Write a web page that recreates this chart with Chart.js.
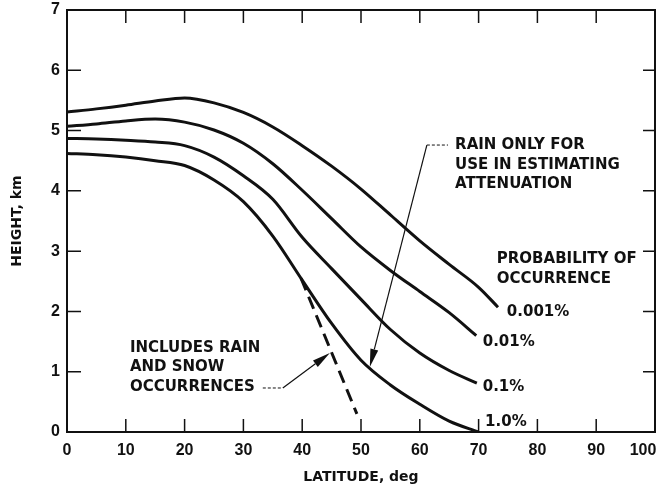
<!DOCTYPE html>
<html lang="en">
<head>
    <meta charset="UTF-8">
    <title>Height vs Latitude</title>
    <script src="https://cdn.jsdelivr.net/npm/chart.js"></script>
    <style>
        html, body { margin: 0; padding: 0; background: #fff; }
        #wrap { width: 657px; height: 490px; }
    </style>
</head>
<body>
<div id="wrap"><canvas id="heightChart" width="657" height="490"></canvas></div>

<script>
    // latitude (deg) and height (km)
    const lat001 = [0, 5, 10, 15, 20, 25, 30, 35, 40, 45, 50, 55, 60, 65, 70, 73.3];
    const h001   = [5.31, 5.36, 5.42, 5.49, 5.54, 5.46, 5.30, 5.06, 4.75, 4.41, 4.03, 3.60, 3.17, 2.78, 2.40, 2.07];

    const lat01 = [0, 5, 10, 15, 20, 25, 30, 35, 40, 45, 50, 55, 60, 65, 69.6];
    const h01   = [5.07, 5.11, 5.16, 5.19, 5.14, 5.01, 4.79, 4.45, 4.01, 3.54, 3.07, 2.68, 2.33, 1.98, 1.60];

    const lat1 = [0, 5, 10, 15, 20, 25, 30, 35, 40, 45, 50, 55, 60, 65, 69.7];
    const h1   = [4.87, 4.86, 4.84, 4.81, 4.75, 4.56, 4.25, 3.86, 3.23, 2.71, 2.20, 1.70, 1.31, 1.02, 0.81];

    const lat10 = [0, 5, 10, 15, 20, 25, 30, 35, 40, 45, 50, 55, 60, 65, 70];
    const h10   = [4.62, 4.60, 4.56, 4.50, 4.42, 4.18, 3.82, 3.25, 2.52, 1.80, 1.19, 0.78, 0.46, 0.18, 0.00];

    // rain + snow branch of the 1% curve
    const latSnow = [39.8, 49.3];
    const hSnow   = [2.55, 0.30];

    const seriesNames = ['0.001%', '0.01%', '0.1%', '1.0%'];
    const xTicks = [0, 10, 20, 30, 40, 50, 60, 70, 80, 90, 100];
    const yTicks = [0, 1, 2, 3, 4, 5, 6, 7];

    function pts(xs, ys) {
        return xs.map((x, i) => ({ x: x, y: ys[i] }));
    }

    const INK = '#111';

    // text and arrows drawn on top of the plot (data units)
    const notes = [
        { lines: ['RAIN ONLY FOR', 'USE IN ESTIMATING', 'ATTENUATION'], x: 66.0, y: 4.76, step: 0.325 },
        { lines: ['PROBABILITY OF', 'OCCURRENCE'], x: 73.1, y: 2.87, step: 0.33 },
        { lines: ['INCLUDES RAIN', 'AND SNOW', 'OCCURRENCES'], x: 10.7, y: 1.39, step: 0.32 },
        { lines: [seriesNames[0]], x: 74.8, y: 1.99, step: 0 },
        { lines: [seriesNames[1]], x: 70.7, y: 1.49, step: 0 },
        { lines: [seriesNames[2]], x: 70.7, y: 0.75, step: 0 },
        { lines: [seriesNames[3]], x: 71.1, y: 0.17, step: 0 }
    ];

    const frameAndNotes = {
        id: 'frameAndNotes',
        afterDatasetsDraw(chart) {
            const ctx = chart.ctx;
            const xs = chart.scales.x, ys = chart.scales.y;
            const a = chart.chartArea;
            const px = v => xs.getPixelForValue(v);
            const py = v => ys.getPixelForValue(v);

            ctx.save();
            ctx.strokeStyle = INK;
            ctx.fillStyle = INK;

            // frame
            ctx.lineWidth = 2;
            ctx.strokeRect(a.left, a.top, a.right - a.left, a.bottom - a.top);

            // inward ticks
            ctx.lineWidth = 1.5;
            ctx.beginPath();
            xs.ticks.forEach(t => {
                const x = px(t.value);
                ctx.moveTo(x, a.bottom); ctx.lineTo(x, a.bottom - 13);
                ctx.moveTo(x, a.top); ctx.lineTo(x, a.top + 13);
            });
            ys.ticks.forEach(t => {
                const y = py(t.value);
                ctx.moveTo(a.left, y); ctx.lineTo(a.left + 14, y);
                ctx.moveTo(a.right, y); ctx.lineTo(a.right - 12, y);
            });
            ctx.stroke();

            // leader lines with arrow heads
            function arrow(x0, y0, x1, y1) {
                const X0 = px(x0), Y0 = py(y0), X1 = px(x1), Y1 = py(y1);
                const ang = Math.atan2(Y1 - Y0, X1 - X0);
                const len = 18, w = 4;
                ctx.lineWidth = 1.2;
                ctx.beginPath();
                ctx.moveTo(X0, Y0);
                ctx.lineTo(X1 - Math.cos(ang) * len, Y1 - Math.sin(ang) * len);
                ctx.stroke();
                ctx.beginPath();
                ctx.moveTo(X1, Y1);
                ctx.lineTo(X1 - Math.cos(ang) * len - Math.sin(ang) * w, Y1 - Math.sin(ang) * len + Math.cos(ang) * w);
                ctx.lineTo(X1 - Math.cos(ang) * len + Math.sin(ang) * w, Y1 - Math.sin(ang) * len - Math.cos(ang) * w);
                ctx.closePath();
                ctx.fill();
            }
            function dashed(x0, y0, x1, y1) {
                ctx.lineWidth = 1;
                ctx.setLineDash([3, 2]);
                ctx.beginPath();
                ctx.moveTo(px(x0), py(y0));
                ctx.lineTo(px(x1), py(y1));
                ctx.stroke();
                ctx.setLineDash([]);
            }

            dashed(61.2, 4.76, 64.8, 4.76);
            arrow(61.2, 4.76, 51.5, 1.08);
            dashed(33.3, 0.73, 36.7, 0.73);
            arrow(36.7, 0.73, 44.7, 1.31);

            // notes
            ctx.font = 'bold 15px "DejaVu Sans"';
            ctx.textAlign = 'left';
            ctx.textBaseline = 'middle';
            notes.forEach(n => {
                n.lines.forEach((s, i) => {
                    ctx.fillText(s, px(n.x), py(n.y - i * n.step));
                });
            });
            ctx.restore();
        }
    };

    const lineStyle = {
        borderColor: INK,
        borderWidth: 3,
        pointRadius: 0,
        fill: false,
        cubicInterpolationMode: 'monotone'
    };

    const ctx = document.getElementById('heightChart').getContext('2d');
    const heightChart = new Chart(ctx, {
        type: 'line',
        data: {
            datasets: [
                Object.assign({ label: seriesNames[0], data: pts(lat001, h001) }, lineStyle),
                Object.assign({ label: seriesNames[1], data: pts(lat01, h01) }, lineStyle),
                Object.assign({ label: seriesNames[2], data: pts(lat1, h1) }, lineStyle),
                Object.assign({ label: seriesNames[3], data: pts(lat10, h10) }, lineStyle),
                {
                    label: 'Includes rain and snow',
                    data: pts(latSnow, hSnow),
                    borderColor: INK,
                    borderWidth: 3,
                    borderDash: [13, 7],
                    pointRadius: 0,
                    fill: false
                }
            ]
        },
        options: {
            responsive: false,
            animation: false,
            layout: { padding: { top: 10, right: 2, left: 0, bottom: 0 } },
            plugins: {
                legend: { display: false },
                tooltip: { enabled: false }
            },
            scales: {
                x: {
                    type: 'linear',
                    min: 0,
                    max: 100,
                    afterBuildTicks: s => { s.ticks = xTicks.map(v => ({ value: v })); },
                    afterFit: s => { s.height = 58; s.paddingLeft = 0; s.paddingRight = 0; },
                    grid: { display: false, drawTicks: false },
                    border: { display: false },
                    ticks: {
                        padding: 9,
                        color: INK,
                        font: { family: 'Liberation Sans', size: 16, weight: 'bold' },
                        // last label sits inside the frame, as in the original
                        callback: v => (v === 100 ? '100\u2002\u2002\u2002' : String(v))
                    },
                    title: {
                        display: true,
                        text: 'LATITUDE, deg',
                        color: INK,
                        padding: { top: 0, bottom: 4 },
                        font: { family: 'DejaVu Sans', size: 14, weight: 'bold' }
                    }
                },
                y: {
                    type: 'linear',
                    min: 0,
                    max: 7,
                    afterBuildTicks: s => { s.ticks = yTicks.map(v => ({ value: v })); },
                    afterFit: s => { s.width = 67; s.paddingTop = 0; s.paddingBottom = 0; },
                    grid: { display: false, drawTicks: false },
                    border: { display: false },
                    ticks: {
                        padding: 7,
                        color: INK,
                        font: { family: 'Liberation Sans', size: 16, weight: 'bold' }
                    },
                    title: {
                        display: true,
                        text: 'HEIGHT, km',
                        color: INK,
                        padding: { top: 9, bottom: 0 },
                        font: { family: 'DejaVu Sans', size: 14, weight: 'bold' }
                    }
                }
            }
        },
        plugins: [frameAndNotes]
    });
</script>
</body>
</html>
